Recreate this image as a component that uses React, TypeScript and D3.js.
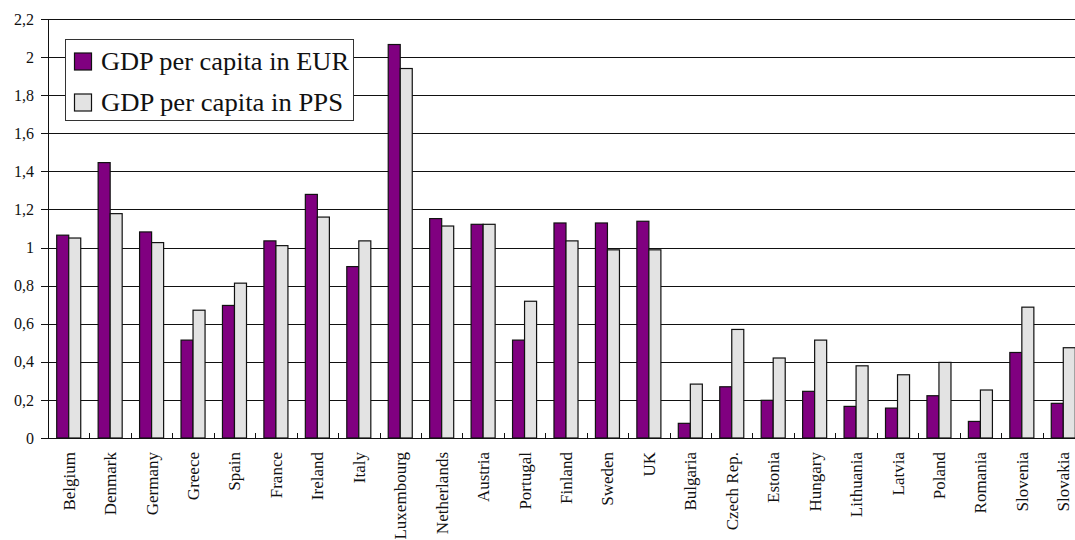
import React from "react";
import * as d3 from "d3";

const countries = [
  "Belgium", "Denmark", "Germany", "Greece", "Spain", "France", "Ireland", "Italy",
  "Luxembourg", "Netherlands", "Austria", "Portugal", "Finland", "Sweden", "UK",
  "Bulgaria", "Czech Rep.", "Estonia", "Hungary", "Lithuania", "Latvia", "Poland",
  "Romania", "Slovenia", "Slovakia",
];
const gdpEur = [
  1.065, 1.446, 1.082, 0.514, 0.696, 1.035, 1.279, 0.9, 2.066, 1.152, 1.122, 0.514,
  1.129, 1.129, 1.138, 0.077, 0.269, 0.198, 0.245, 0.166, 0.157, 0.222, 0.087, 0.449, 0.182,
];
const gdpPps = [
  1.05, 1.178, 1.026, 0.671, 0.813, 1.01, 1.16, 1.035, 1.94, 1.113, 1.122, 0.718,
  1.035, 0.988, 0.988, 0.283, 0.57, 0.42, 0.514, 0.379, 0.332, 0.397, 0.252, 0.687, 0.474,
];
const yTicks = [0, 0.2, 0.4, 0.6, 0.8, 1, 1.2, 1.4, 1.6, 1.8, 2, 2.2];
const seriesNames = ["GDP per capita in EUR", "GDP per capita in PPS"];
const seriesColors = ["#800080", "#E3E3E3"];

const W = 1075;
const H = 540;
const FONT = "Liberation Serif";
const txt = { fontFamily: FONT };

export default function App() {
  const left = 48;
  const right = 1084;
  const top = 19;
  const bottom = 438;

  const x = d3.scaleBand<string>().domain(countries).range([left, right]).padding(0);
  const y = d3.scaleLinear().domain([0, 2.2]).range([bottom, top]);
  const bw = x.bandwidth();
  const barW = bw * 0.29;
  const fmt = (v: number) => (Math.round(v * 10) / 10).toString().replace(".", ",");
  const legendLen = [248, 242];

  return (
    <svg
      width={W}
      height={H}
      style={{ position: "absolute", left: 0, top: 0, background: "#fff", fontFamily: FONT }}
    >
      <rect x={0} y={0} width={W} height={H} fill="#fff" />
      {yTicks.map((t) => (
        <line key={"g" + t} x1={left - 7} x2={W} y1={Math.round(y(t)) + 0.5} y2={Math.round(y(t)) + 0.5}
          stroke="#111" strokeWidth={1} />
      ))}
      {yTicks.map((t) => (
        <text key={"yl" + t} x={34} y={y(t)} dy="0.35em" textAnchor="end" fontSize={16} fill="#111" style={txt}>
          {fmt(t)}
        </text>
      ))}
      <line x1={left + 0.5} x2={left + 0.5} y1={top} y2={bottom} stroke="#111" />
      {countries.map((c, i) => {
        const cx = (x(c) as number) + bw / 2;
        return (
          <g key={c}>
            <rect x={cx - barW} y={y(gdpEur[i])} width={barW} height={bottom - y(gdpEur[i])}
              fill={seriesColors[0]} stroke="#111" strokeWidth={1.2} />
            <rect x={cx} y={y(gdpPps[i])} width={barW} height={bottom - y(gdpPps[i])}
              fill={seriesColors[1]} stroke="#111" strokeWidth={1.2} />
          </g>
        );
      })}
      <line x1={left} x2={W} y1={bottom + 0.5} y2={bottom + 0.5} stroke="#111" />
      {countries.map((c) => (
        <line key={"t" + c} x1={Math.round(x(c) as number) + 0.5} x2={Math.round(x(c) as number) + 0.5}
          y1={bottom - 5} y2={bottom} stroke="#111" />
      ))}
      {countries.map((c) => {
        const cx = (x(c) as number) + bw / 2;
        return (
          <text key={"xl" + c} transform={`translate(${cx + 6},452) rotate(-90)`} textAnchor="end"
            fontSize={17} fill="#111" style={txt}>
            {c}
          </text>
        );
      })}
      <g>
        <rect x={65.5} y={39.5} width={288} height={81} fill="#fff" stroke="#333" strokeWidth={1} />
        {seriesNames.map((n, i) => (
          <g key={n}>
            <rect x={74.5} y={53 + i * 41} width={17} height={17} fill={seriesColors[i]} stroke="#111" strokeWidth={1.2} />
            <text x={101} y={69.5 + i * 41} fontSize={25} fill="#111" style={txt}
              textLength={legendLen[i]} lengthAdjust="spacingAndGlyphs">{n}</text>
          </g>
        ))}
      </g>
    </svg>
  );
}
